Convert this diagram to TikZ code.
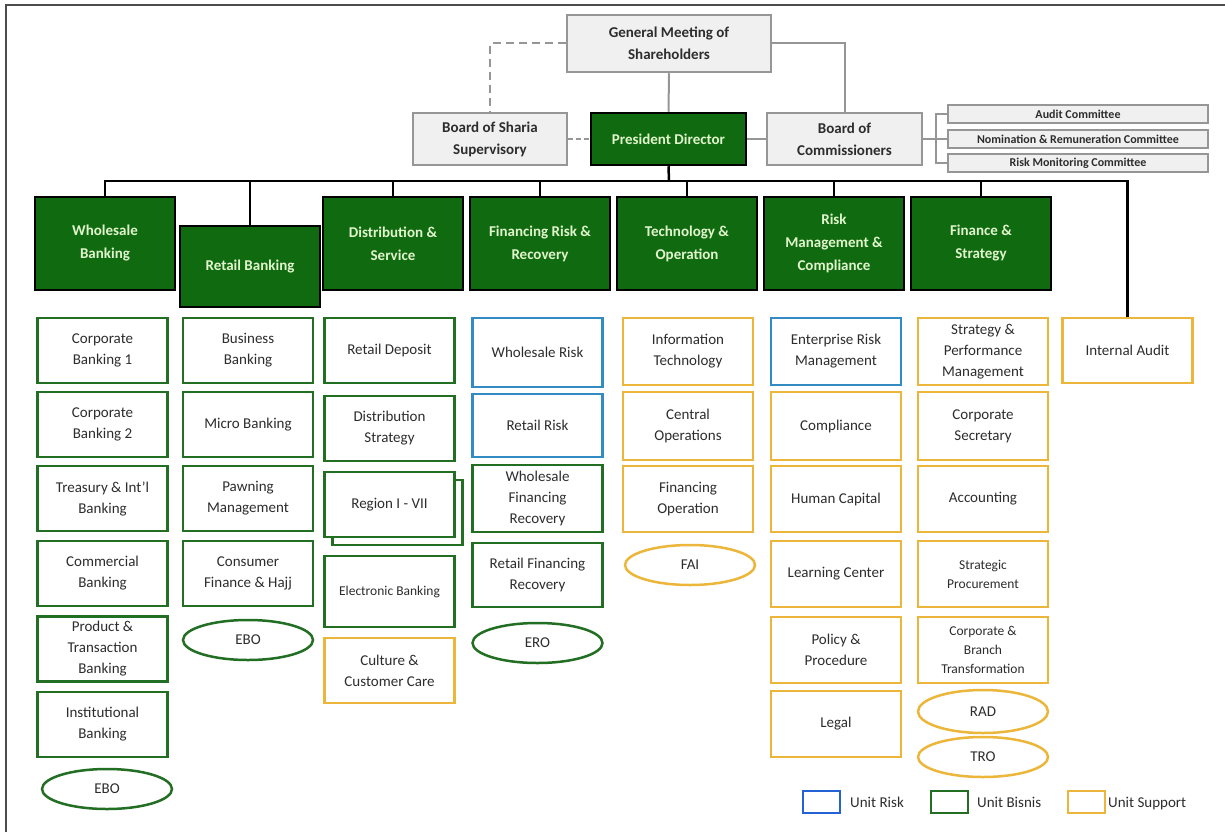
\documentclass[tikz,border=0pt]{standalone}
\usepackage{fontspec}
\setmainfont{Carlito}
\usetikzlibrary{shapes.geometric}

\definecolor{hdgreen}{RGB}{16,106,16}
\definecolor{hdtext}{RGB}{225,245,205}
\definecolor{bisnisc}{RGB}{34,110,34}
\definecolor{riskc}{RGB}{50,140,195}
\definecolor{supportc}{RGB}{236,182,58}
\definecolor{govfill}{RGB}{240,240,240}
\definecolor{govline}{RGB}{150,150,150}
\definecolor{txt}{RGB}{45,45,45}

\begin{document}
\begin{tikzpicture}[x=1pt,y=-1pt,
    unit/.style={draw,line width=2.5pt,fill=white,text=txt,minimum width=130pt,
      minimum height=65pt,inner sep=0pt,align=center,font=\fontsize{15}{21}\selectfont},
    bisnis/.style={unit,draw=bisnisc},
    risk/.style={unit,draw=riskc},
    support/.style={unit,draw=supportc},
    office/.style={ellipse,minimum height=40pt},
    head/.style={draw=black,fill=hdgreen,text=hdtext,line width=2.5pt,minimum width=140pt,
      minimum height=93pt,inner sep=0pt,align=center,font=\fontsize{15}{23}\selectfont\bfseries},
    gov/.style={draw=govline,fill=govfill,text=txt,line width=2.5pt,inner sep=0pt,
      align=center,font=\fontsize{15}{22}\selectfont\bfseries},
    govlink/.style={draw=govline,line width=2pt},
    bus/.style={draw=black,line width=2.5pt}]

  \useasboundingbox (0,0) rectangle (1225,832);
  \draw[line width=1.5pt,black!70] (6,832) -- (6,5) -- (1225,5);

  % governance
  \node[gov,minimum width=204pt,minimum height=57pt] (gms) at (669,43.5) {General Meeting of\\Shareholders};
  \node[gov,minimum width=154pt,minimum height=52pt] (sharia) at (490,139) {Board of Sharia\\Supervisory};
  \node[head,minimum width=155pt,minimum height=52pt] (pd) at (668.5,139) {President Director};
  \node[gov,minimum width=155pt,minimum height=52pt] (boc) at (844.5,139) {Board of\\Commissioners};

  \begin{scope}[every node/.style={gov,minimum width=260pt,minimum height=18pt,font=\fontsize{12}{13}\selectfont\bfseries}]
    \node (audit) at (1078,114) {Audit Committee};
    \node (nom)   at (1078,139) {Nomination \& Remuneration Committee};
    \node (rmc)   at (1078,163) {Risk Monitoring Committee};
  \end{scope}

  \coordinate (brk) at (936,139);
  \coordinate (bus) at (669,181);

  \path[govlink,dashed,dash pattern=on 8pt off 5pt] (gms.west) -| (sharia.north);
  \path[govlink,dashed,dash pattern=on 5pt off 3pt] (sharia.east) -- (pd.west);
  \path[govlink] (gms.south) -- (pd.north);
  \path[govlink] (gms.east) -| (boc.north);
  \path[govlink] (pd.east) -- (boc.west);
  \path[govlink] (boc.east) -- (brk);
  \path[govlink] (audit.west) -| (brk) |- (rmc.west);
  \path[govlink] (brk) -- (nom.west);

  % directorates
  \node[head] (wb) at (105,243.5) {Wholesale\\Banking};
  \node[head,minimum height=81pt] (rb) at (250,266.5) {Retail Banking};
  \node[head] (ds) at (393,243.5) {Distribution \&\\Service};
  \node[head] (fr) at (540,243.5) {Financing Risk \&\\Recovery};
  \node[head] (to) at (687,243.5) {Technology \&\\Operation};
  \node[head] (rm) at (834,243.5) {Risk\\Management \&\\Compliance};
  \node[head] (fs) at (981,243.5) {Finance \&\\Strategy};

  % wholesale banking
  \node[bisnis] (cb1) at (102.5,350.5) {Corporate\\Banking 1};
  \node[bisnis] (cb2) at (102.5,424.5) {Corporate\\Banking 2};
  \node[bisnis] (tib) at (102.5,498.5) {Treasury \& Int’l\\Banking};
  \node[bisnis] (cmb) at (102.5,573.5) {Commercial\\Banking};
  \node[bisnis] (ptb) at (102.5,649) {Product \&\\Transaction\\Banking};
  \node[bisnis] (inb) at (102.5,724.5) {Institutional\\Banking};
  \node[bisnis,office] (ebo1) at (107,789) {EBO};

  % retail banking
  \node[bisnis] (bb)  at (248,350.5) {Business\\Banking};
  \node[bisnis] (mb)  at (248,424.5) {Micro Banking};
  \node[bisnis] (pm)  at (248,498.5) {Pawning\\Management};
  \node[bisnis] (cfh) at (248,573.5) {Consumer\\Finance \& Hajj};
  \node[bisnis,office] (ebo2) at (248,640) {EBO};

  % distribution & service
  \node[bisnis] (rd)  at (389.5,350.5) {Retail Deposit};
  \node[bisnis] (dst) at (389.5,428.5) {Distribution\\Strategy};
  \node[bisnis] (rgb) at (397.5,512.5) {};
  \node[bisnis] (rg)  at (389.5,504.5) {Region I - VII};
  \node[bisnis,minimum height=71pt,font=\fontsize{13.5}{18}\selectfont] (eb) at (389.5,591.5) {Electronic Banking};
  \node[support] (ccc) at (389.5,670.5) {Culture \&\\Customer Care};

  % financing risk & recovery
  \node[risk,minimum height=69pt] (wr) at (537.5,352.5) {Wholesale Risk};
  \node[risk,minimum height=63pt] (rr) at (537.5,425.5) {Retail Risk};
  \node[bisnis,minimum height=67pt] (wfr) at (537.5,498.5) {Wholesale\\Financing\\Recovery};
  \node[bisnis,minimum height=64pt] (rfr) at (537.5,575) {Retail Financing\\Recovery};
  \node[bisnis,office] (ero) at (537.5,643) {ERO};

  % technology & operation
  \node[support,minimum height=67pt] (it) at (688,351.5) {Information\\Technology};
  \node[support,minimum height=68pt] (co) at (688,426) {Central\\Operations};
  \node[support,minimum height=66pt] (fo) at (688,499) {Financing\\Operation};
  \node[support,office] (fai) at (690,565) {FAI};

  % risk management & compliance
  \node[risk,minimum height=67pt] (erm) at (836,351.5) {Enterprise Risk\\Management};
  \node[support,minimum height=68pt] (cp)  at (836,426) {Compliance};
  \node[support,minimum height=66pt] (hc)  at (836,499) {Human Capital};
  \node[support,minimum height=66pt] (lc)  at (836,574) {Learning Center};
  \node[support,minimum height=66pt] (pp)  at (836,650) {Policy \&\\Procedure};
  \node[support,minimum height=66pt] (lg)  at (836,724) {Legal};

  % finance & strategy
  \node[support,minimum height=67pt] (spm) at (983,351.5) {Strategy \&\\Performance\\Management};
  \node[support,minimum height=68pt] (cs)  at (983,426) {Corporate\\Secretary};
  \node[support,minimum height=66pt] (acc) at (983,499) {Accounting};
  \node[support,minimum height=66pt,font=\fontsize{13.5}{19}\selectfont] (sp) at (983,574) {Strategic\\Procurement};
  \node[support,minimum height=66pt,font=\fontsize{13.5}{19}\selectfont] (cbt) at (983,650) {Corporate \&\\Branch\\Transformation};
  \node[support,office,minimum height=43pt] (rad) at (983,711.5) {RAD};
  \node[support,office] (tro) at (983,757) {TRO};

  \node[support] (ia) at (1127.5,350.5) {Internal Audit};

  % reporting lines
  \path[bus] (pd.south) -- (bus);
  \foreach \n in {wb,rb,ds,fr,to,rm,fs,ia}
    \path[bus] (\n.north) |- (bus);

  % legend
  \begin{scope}[every node/.style={unit,minimum width=37pt,minimum height=22pt,line width=2pt}]
    \node[draw=riskc!70!blue] (lgr) at (821.5,802) {};
    \node[draw=bisnisc] (lgb) at (949.5,802) {};
    \node[draw=supportc] (lgs) at (1086.5,802) {};
  \end{scope}
  \begin{scope}[every node/.style={text=txt,font=\fontsize{15}{18}\selectfont,inner sep=0pt,anchor=base west}]
    \node (lrt) at (850,807) {Unit Risk};
    \node (lbt) at (977,807) {Unit Bisnis};
    \node (lst) at (1108,807) {Unit Support};
  \end{scope}

\end{tikzpicture}
\end{document}
